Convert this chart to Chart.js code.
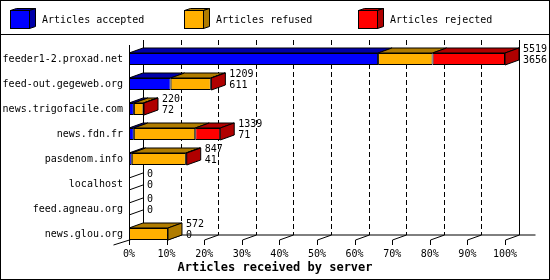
<!DOCTYPE html>
<html>
<head>
<meta charset="utf-8">
<script src="https://cdn.jsdelivr.net/npm/chart.js@4.4.0/dist/chart.umd.min.js"></script>
<style>
body { margin: 0; background: #fff; }
canvas { display: block; }
</style>
</head>
<body>
<canvas id="myChart" width="550" height="280"></canvas>
<script>
var servers = ['feeder1-2.proxad.net', 'feed-out.gegeweb.org', 'news.trigofacile.com', 'news.fdn.fr',
               'pasdenom.info', 'localhost', 'feed.agneau.org', 'news.glou.org'];
var accepted = [3656, 611, 72, 71, 41, 0, 0, 0];
var refused  = [800, 590, 140, 901, 794, 0, 0, 572];
var rejected = [1063, 8, 8, 367, 12, 0, 0, 0];
var percentTicks = [0, 10, 20, 30, 40, 50, 60, 70, 80, 90, 100];

var seriesNames = ['Articles accepted', 'Articles refused', 'Articles rejected'];
var frontColors = ['#0000ff', '#ffb000', '#ff0000'];
var shadeColors = ['#0000a8', '#b07c00', '#b00000'];
var axisTitle = 'Articles received by server';

var FONT = 'DejaVu Sans Mono';
var DX = 14, DY = 5;   // 3d depth offset

var totals = servers.map(function (s, i) { return accepted[i] + refused[i] + rejected[i]; });
var maxTotal = Math.max.apply(null, totals);
function pct(arr) { return arr.map(function (v) { return v / maxTotal * 100; }); }

function seg(ctx, x1, y1, x2, y2) {
    ctx.beginPath(); ctx.moveTo(x1, y1); ctx.lineTo(x2, y2); ctx.stroke();
}
function poly(ctx, pts, fill) {
    ctx.beginPath();
    pts.forEach(function (p, i) { if (i) ctx.lineTo(p[0], p[1]); else ctx.moveTo(p[0], p[1]); });
    ctx.closePath();
    if (fill) { ctx.fillStyle = fill; ctx.fill(); }
    ctx.stroke();
}
function px(x) { return Math.round(x) + 0.5; }

var box3d = {
    id: 'box3d',
    beforeDraw: function (chart) {
        var ctx = chart.ctx;
        ctx.save();
        ctx.fillStyle = '#fff';
        ctx.fillRect(0, 0, chart.width, chart.height);
        ctx.restore();
    },
    beforeDatasetsDraw: function (chart) {
        var ctx = chart.ctx, a = chart.chartArea, xs = chart.scales.x;
        var fTop = a.top - 1.5, fBot = a.bottom - 6.5;
        var bTop = fTop - DY, bBot = fBot - DY;
        var x0 = px(xs.getPixelForValue(0)), x100 = px(xs.getPixelForValue(100));
        ctx.save();
        ctx.strokeStyle = '#000';
        ctx.lineWidth = 1;
        // back grid
        ctx.setLineDash([5, 3]);
        percentTicks.forEach(function (v) {
            if (v == 0 || v == 100) return;
            var xb = px(xs.getPixelForValue(v)) + DX;
            seg(ctx, xb, bTop, xb, bBot);
        });
        ctx.setLineDash([]);
        seg(ctx, x0 + DX, bTop, x0 + DX, bBot);
        seg(ctx, x100 + DX, bTop, x100 + DX, bBot);
        seg(ctx, x0 + DX, bBot, x100 + DX + 16, bBot);
        // front axis
        seg(ctx, x0, fTop, x0, fBot);
        seg(ctx, x0 - 16, fBot + 5, x0, fBot);
        percentTicks.forEach(function (v) {
            var xf = px(xs.getPixelForValue(v));
            seg(ctx, xf, fBot + 5, xf, fBot);
            seg(ctx, xf, fBot, xf + DX, bBot);
        });
        ctx.restore();
    },
    afterDatasetsDraw: function (chart) {
        var ctx = chart.ctx;
        ctx.save();
        ctx.strokeStyle = '#000';
        ctx.lineWidth = 1;
        servers.forEach(function (s, j) {
            var els = [0, 1, 2].map(function (d) { return chart.getDatasetMeta(d).data[j]; });
            var vals = [accepted[j], refused[j], rejected[j]];
            var last = -1, xEnd = els[0].base, y = els[0].y, h = els[0].height;
            var yt = y - h / 2, yb = y + h / 2;
            els.forEach(function (el, d) {
                if (!vals[d]) return;
                last = d;
                xEnd = el.x;
                poly(ctx, [[el.base, yt], [el.x, yt], [el.x + DX, yt - DY], [el.base + DX, yt - DY]], shadeColors[d]);
            });
            if (last >= 0) {
                poly(ctx, [[xEnd, yt], [xEnd + DX, yt - DY], [xEnd + DX, yb - DY], [xEnd, yb]], shadeColors[last]);
            } else {
                seg(ctx, xEnd, yt, xEnd + DX, yt - DY);
                seg(ctx, xEnd, yb, xEnd + DX, yb - DY);
            }
            ctx.fillStyle = '#000';
            ctx.font = '10px "' + FONT + '"';
            ctx.textBaseline = 'middle';
            ctx.textAlign = 'left';
            ctx.fillText(String(totals[j]), xEnd + DX + 4, y - 9.5);
            ctx.fillText(String(accepted[j]), xEnd + DX + 4, y + 1.5);
        });
        ctx.restore();
    },
    afterDraw: function (chart) {
        var ctx = chart.ctx;
        ctx.save();
        ctx.strokeStyle = '#000';
        ctx.lineWidth = 1;
        ctx.strokeRect(0.5, 0.5, 549, 279);
        seg(ctx, 0, 34.5, 550, 34.5);
        // legend
        var legendX = [10, 184, 358];
        ctx.font = '10px "' + FONT + '"';
        ctx.textBaseline = 'middle';
        ctx.textAlign = 'left';
        seriesNames.forEach(function (name, d) {
            var x = legendX[d] + 0.5, y = 10.5, w = 19, hh = 18;
            poly(ctx, [[x, y], [x + w, y], [x + w + 6, y - 2], [x + 6, y - 2]], shadeColors[d]);
            poly(ctx, [[x + w, y], [x + w + 6, y - 2], [x + w + 6, y + hh - 2], [x + w, y + hh]], shadeColors[d]);
            ctx.fillStyle = frontColors[d];
            ctx.fillRect(x, y, w, hh);
            ctx.strokeRect(x, y, w, hh);
            ctx.fillStyle = '#000';
            ctx.fillText(name, legendX[d] + 32, 20);
        });
        // axis title
        ctx.font = 'bold 12px "' + FONT + '"';
        ctx.textAlign = 'center';
        ctx.fillText(axisTitle, 275, 268);
        ctx.restore();
    }
};

Chart.defaults.color = '#000';
Chart.defaults.font.family = FONT;
Chart.defaults.font.size = 10;

var datasets = seriesNames.map(function (name, d) {
    return {
        label: name,
        data: pct([accepted, refused, rejected][d]),
        backgroundColor: frontColors[d],
        borderColor: '#000',
        borderWidth: 1,
        borderSkipped: false,
        inflateAmount: 0,
        barThickness: 12
    };
});

const ctx = document.getElementById('myChart');
const myChart = new Chart(ctx, {
    type: 'bar',
    data: { labels: servers, datasets: datasets },
    options: {
        indexAxis: 'y',
        responsive: false,
        animation: false,
        devicePixelRatio: 1,
        events: [],
        layout: { padding: { top: 46.5, right: 45, left: 0, bottom: 0 } },
        plugins: { legend: { display: false }, tooltip: { enabled: false } },
        scales: {
            x: {
                stacked: true,
                min: 0,
                max: 100,
                afterBuildTicks: function (s) { s.ticks = percentTicks.map(function (v) { return { value: v }; }); },
                afterFit: function (s) { s.height = 33.5; },
                ticks: { padding: 2, maxRotation: 0, autoSkip: false, callback: function (v) { return v + '%'; } },
                grid: { display: false, drawTicks: false },
                border: { display: false }
            },
            y: {
                stacked: true,
                afterFit: function (s) { s.width = 129; },
                ticks: { padding: 6, autoSkip: false },
                grid: { display: false, drawTicks: false },
                border: { display: false }
            }
        }
    },
    plugins: [box3d]
});
</script>
</body>
</html>
